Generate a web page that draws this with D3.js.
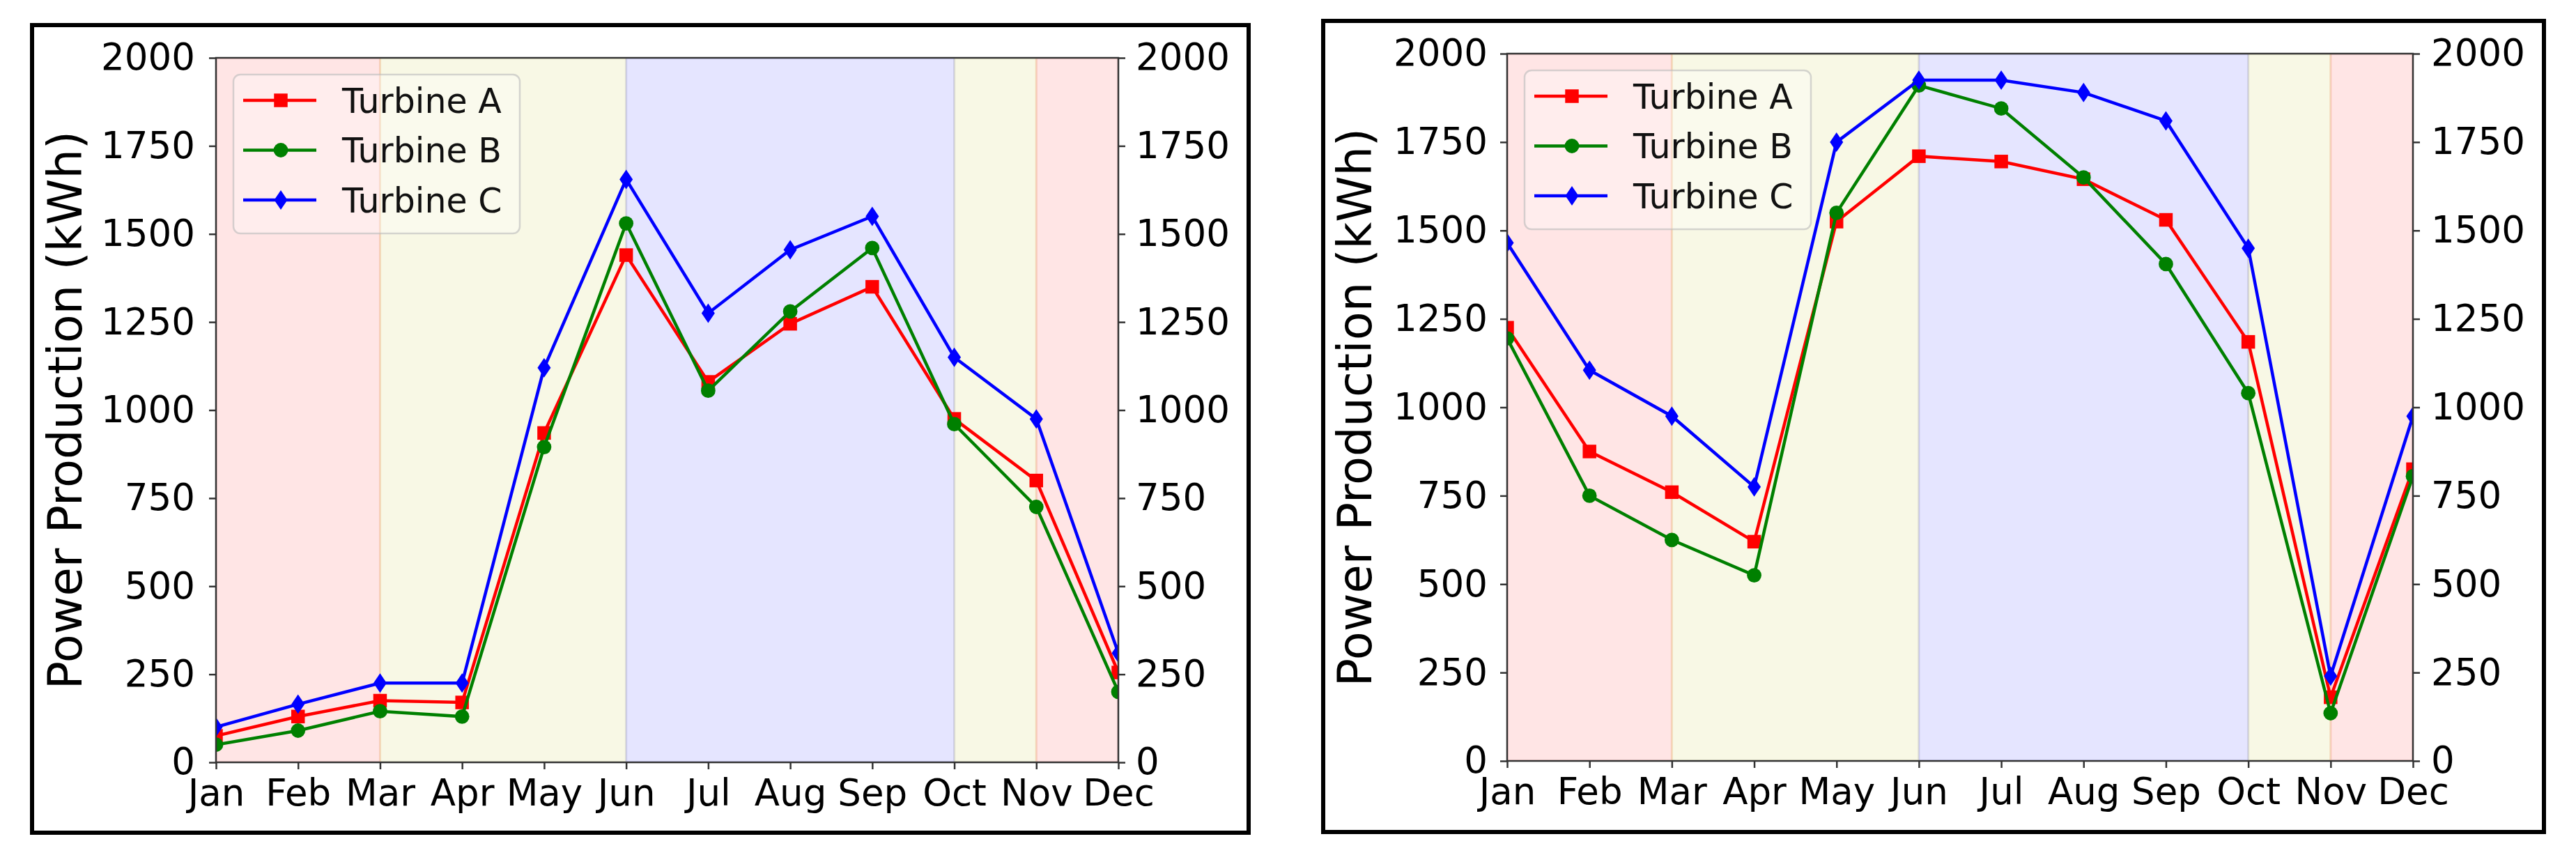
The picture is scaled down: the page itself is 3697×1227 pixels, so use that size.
<!DOCTYPE html>
<html>
<head>
<meta charset="utf-8">
<script src="https://cdn.jsdelivr.net/npm/d3@7"></script>
<style>
  body { margin: 0; background: #fff; }
  svg { display: block; font-family: "DejaVu Sans", sans-serif; }
</style>
</head>
<body>
<div id="chart"></div>
<script>
// data
var months = ['Jan', 'Feb', 'Mar', 'Apr', 'May', 'Jun', 'Jul', 'Aug', 'Sep', 'Oct', 'Nov', 'Dec'];
var yTicks = [0, 250, 500, 750, 1000, 1250, 1500, 1750, 2000];
var seriesNames = ['Turbine A', 'Turbine B', 'Turbine C'];

// left chart
var leftA = [75, 130, 175, 170, 935, 1440, 1080, 1245, 1350, 975, 800, 255];
var leftB = [50, 90, 145, 130, 895, 1530, 1055, 1280, 1460, 960, 725, 200];
var leftC = [100, 165, 225, 225, 1120, 1655, 1275, 1455, 1550, 1150, 975, 310];

// right chart
var rightA = [1225, 875, 760, 620, 1525, 1710, 1695, 1645, 1530, 1185, 180, 825];
var rightB = [1195, 750, 625, 525, 1550, 1910, 1845, 1650, 1405, 1040, 135, 805];
var rightC = [1465, 1105, 975, 775, 1750, 1925, 1925, 1890, 1810, 1450, 240, 975];

// shaded seasons: from month, to month
var spanStart = ['Jan', 'Mar', 'Jun', 'Oct', 'Nov'];
var spanEnd = ['Mar', 'Jun', 'Oct', 'Nov', 'Dec'];
var spanColor = ['#ff0000', '#bfbf00', '#0000ff', '#bfbf00', '#ff0000'];

var lineColors = ['#ff0000', '#008000', '#0000ff'];

var svg = d3.select('#chart')
    .append('svg')
    .attr('width', 3697)
    .attr('height', 1227);

svg.append('rect')
    .attr('width', 3697)
    .attr('height', 1227)
    .attr('fill', '#fff');

function markerPath(i) {
    if (i === 0) return d3.symbol().type(d3.symbolSquare).size(380)();
    if (i === 1) return d3.symbol().type(d3.symbolCircle).size(340)();
    return 'M0,-14L9.5,0L0,14L-9.5,0Z';
}

function drawPanel(id, box, frame, series) {
    var width = box.w, height = box.h;

    // black frame round the panel
    svg.append('rect')
        .attr('x', frame.x)
        .attr('y', frame.y)
        .attr('width', frame.w)
        .attr('height', frame.h)
        .attr('fill', 'none')
        .attr('stroke', '#000')
        .attr('stroke-width', 6);

    var g = svg.append('g')
        .attr('transform', 'translate(' + box.x + ',' + box.y + ')');

    var x = d3.scalePoint()
        .domain(months)
        .range([0, width]);

    var y = d3.scaleLinear()
        .domain([0, 2000])
        .range([height, 0]);

    g.append('clipPath')
        .attr('id', 'clip' + id)
        .append('rect')
        .attr('width', width)
        .attr('height', height);

    var plot = g.append('g').attr('clip-path', 'url(#clip' + id + ')');

    // season spans
    plot.selectAll('.span')
        .data(spanStart)
        .enter().append('rect')
        .attr('x', function(d) { return x(d); })
        .attr('y', 0)
        .attr('width', function(d, i) { return x(spanEnd[i]) - x(d); })
        .attr('height', height)
        .attr('fill', function(d, i) { return spanColor[i]; })
        .attr('fill-opacity', 0.1)
        .attr('stroke', function(d, i) { return spanColor[i]; })
        .attr('stroke-opacity', 0.1)
        .attr('stroke-width', 3);

    var line = d3.line()
        .x(function(d, i) { return x(months[i]); })
        .y(function(d) { return y(d); });

    series.forEach(function(vals, s) {
        plot.append('path')
            .datum(vals)
            .attr('d', line)
            .attr('fill', 'none')
            .attr('stroke', lineColors[s])
            .attr('stroke-width', 4.5);

        plot.selectAll('.m' + s)
            .data(vals)
            .enter().append('path')
            .attr('d', markerPath(s))
            .attr('transform', function(d, i) {
                return 'translate(' + x(months[i]) + ',' + y(d) + ')';
            })
            .attr('fill', lineColors[s]);
    });

    // axes
    var fmt = d3.format('d');
    var yl = g.append('g')
        .call(d3.axisLeft(y).tickValues(yTicks).tickFormat(fmt).tickSize(10).tickPadding(box.padL));
    var yr = g.append('g')
        .attr('transform', 'translate(' + width + ',0)')
        .call(d3.axisRight(y).tickValues(yTicks).tickFormat(fmt).tickSize(10).tickPadding(box.padR));
    var xb = g.append('g')
        .attr('transform', 'translate(0,' + height + ')')
        .call(d3.axisBottom(x).tickSize(10).tickPadding(14));

    [yl, yr, xb].forEach(function(a) {
        a.select('.domain').remove();
        a.selectAll('line').attr('stroke', '#333').attr('stroke-width', 2.5);
        a.selectAll('text')
            .attr('fill', '#000')
            .style('font-size', '53px')
            .style('font-family', '"DejaVu Sans", sans-serif');
    });

    // spines
    g.append('rect')
        .attr('width', width)
        .attr('height', height)
        .attr('fill', 'none')
        .attr('stroke', '#333')
        .attr('stroke-width', 2.5);

    // y label
    svg.append('text')
        .attr('transform', 'translate(' + box.labelX + ',' + (box.y + height / 2) + ') rotate(-90)')
        .attr('text-anchor', 'middle')
        .style('font-size', '67px')
        .attr('fill', '#000')
        .text('Power Production (kWh)');

    // legend
    var lg = g.append('g').attr('transform', 'translate(25,24)');
    lg.append('rect')
        .attr('width', 411)
        .attr('height', 228)
        .attr('rx', 10)
        .attr('fill', '#fff')
        .attr('fill-opacity', 0.3)
        .attr('stroke', '#bbb')
        .attr('stroke-opacity', 0.6)
        .attr('stroke-width', 2.5);

    seriesNames.forEach(function(name, s) {
        var ey = 37 + s * 71.5;
        lg.append('line')
            .attr('x1', 14)
            .attr('x2', 119)
            .attr('y1', ey)
            .attr('y2', ey)
            .attr('stroke', lineColors[s])
            .attr('stroke-width', 4.5);
        lg.append('path')
            .attr('d', markerPath(s))
            .attr('transform', 'translate(68,' + ey + ')')
            .attr('fill', lineColors[s]);
        lg.append('text')
            .attr('x', 156)
            .attr('y', ey)
            .attr('dy', '0.36em')
            .style('font-size', '49px')
            .attr('fill', '#111')
            .text(name);
    });
}

drawPanel('L',
    { x: 310, y: 83, w: 1295, h: 1011, padL: 20, padR: 15, labelX: 117 },
    { x: 46, y: 36, w: 1746, h: 1159 },
    [leftA, leftB, leftC]);

drawPanel('R',
    { x: 2163, y: 77, w: 1300, h: 1015, padL: 18, padR: 16, labelX: 1968 },
    { x: 1899, y: 30, w: 1752, h: 1164 },
    [rightA, rightB, rightC]);
</script>
</body>
</html>
